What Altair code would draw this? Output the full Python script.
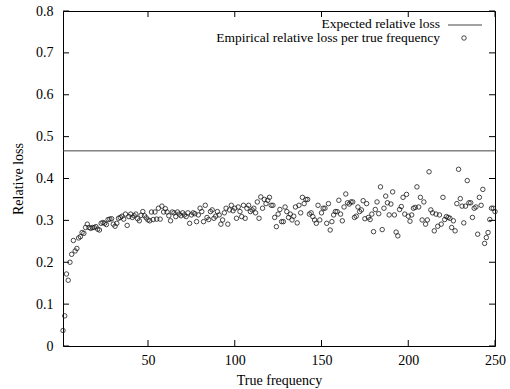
import altair as alt
import pandas as pd

# Empirical relative loss for each true frequency 1..250
loss_low = [
    0.037, 0.072, 0.172, 0.157, 0.200, 0.219, 0.252, 0.227, 0.233, 0.258,
    0.261, 0.271, 0.269, 0.283, 0.291, 0.283, 0.281, 0.283, 0.283, 0.285,
    0.279, 0.277, 0.293, 0.295, 0.293, 0.290, 0.302, 0.303, 0.304, 0.291,
    0.286, 0.293, 0.305, 0.307, 0.310, 0.303, 0.315, 0.288, 0.309, 0.315,
    0.307, 0.311, 0.315, 0.304, 0.299, 0.312, 0.321, 0.311, 0.306, 0.301,
    0.299, 0.320, 0.302, 0.320, 0.303, 0.329, 0.303, 0.334, 0.320, 0.328,
    0.320, 0.311, 0.299, 0.320, 0.318, 0.309, 0.320, 0.315, 0.311,
]
loss_mid = [
    0.318, 0.313, 0.309, 0.318, 0.293, 0.313, 0.318, 0.316, 0.297, 0.313,
    0.329, 0.321, 0.297, 0.336, 0.307, 0.302, 0.321, 0.325, 0.305, 0.310,
    0.321, 0.313, 0.291, 0.301, 0.318, 0.329, 0.291, 0.325, 0.336, 0.323,
    0.329, 0.305, 0.332, 0.321, 0.309, 0.336, 0.305, 0.329, 0.336, 0.321,
    0.325, 0.329, 0.318, 0.344, 0.305, 0.356, 0.329, 0.350, 0.340, 0.348,
    0.355, 0.336, 0.336, 0.307, 0.285, 0.315, 0.326, 0.297, 0.297, 0.332,
    0.321, 0.307, 0.315, 0.301, 0.310, 0.332, 0.294, 0.336, 0.318, 0.355,
    0.340, 0.350, 0.350, 0.315, 0.318, 0.309, 0.301, 0.293, 0.336, 0.301,
    0.318, 0.329, 0.329, 0.293, 0.340, 0.277, 0.297, 0.313, 0.321, 0.321,
    0.348, 0.315, 0.299, 0.332, 0.363, 0.342,
]
loss_high = [
    0.339, 0.344, 0.344, 0.307, 0.310, 0.332, 0.321, 0.325, 0.347, 0.304,
    0.340, 0.307, 0.302, 0.315, 0.273, 0.326, 0.344, 0.316, 0.380, 0.278,
    0.329, 0.358, 0.342, 0.313, 0.339, 0.368, 0.313, 0.272, 0.263, 0.326,
    0.333, 0.355, 0.315, 0.362, 0.310, 0.298, 0.313, 0.329, 0.331, 0.380,
    0.332, 0.355, 0.301, 0.344, 0.291, 0.301, 0.416, 0.325, 0.318, 0.275,
    0.315, 0.286, 0.313, 0.291, 0.355, 0.302, 0.309, 0.307, 0.305, 0.283,
    0.299, 0.275, 0.340, 0.422, 0.352, 0.334, 0.294, 0.334, 0.395, 0.342,
    0.342, 0.307, 0.329, 0.332, 0.267, 0.355, 0.336, 0.374, 0.245, 0.259,
    0.271, 0.302, 0.329, 0.329, 0.321,
]
empirical_loss = loss_low + loss_mid + loss_high
true_frequency = list(range(1, len(empirical_loss) + 1))

expected_loss = [0.466]

x_ticks = [50, 100, 150, 200, 250]
y_ticks = [0, 0.1, 0.2, 0.3, 0.4, 0.5, 0.6, 0.7, 0.8]

legend_labels = ["Expected relative loss", "Empirical relative loss per true frequency"]

W, H = 432, 335
FONT = "'Liberation Serif', 'Times New Roman', Times, serif"
TICK = 6

points_df = pd.DataFrame({"freq": true_frequency, "loss": empirical_loss})
expected_df = pd.DataFrame({"loss": expected_loss})
xt_df = pd.DataFrame({"freq": x_ticks})
yt_df = pd.DataFrame({"loss": y_ticks})

x_scale = alt.Scale(domain=[1, 250], nice=False, zero=False)
y_scale = alt.Scale(domain=[0, 0.8], nice=False)

x_axis = alt.Axis(
    values=x_ticks, ticks=False, domain=False, grid=False, labelFlush=False,
    labelFont=FONT, labelFontSize=14, labelColor="black", labelPadding=7,
    title="True frequency", titleFont=FONT, titleFontSize=14,
    titleFontWeight="normal", titleColor="black",
    titleY=34, titleBaseline="middle",
)
y_axis = alt.Axis(
    values=y_ticks, ticks=False, domain=False, grid=False, labelFlush=False,
    labelFont=FONT, labelFontSize=14, labelColor="black", labelPadding=10,
    labelExpr="datum.value == 0 ? '0' : format(datum.value, '.1f')",
    title="Relative loss", titleFont=FONT, titleFontSize=14,
    titleFontWeight="normal", titleColor="black",
    titleX=-45, titleY=H / 2, titleAngle=270,
    titleAlign="center", titleBaseline="middle",
)

points = alt.Chart(points_df).mark_point(
    shape="circle", size=20, filled=False, color="#1a1a1a", strokeWidth=0.8, opacity=1
).encode(
    x=alt.X("freq:Q", scale=x_scale, axis=x_axis),
    y=alt.Y("loss:Q", scale=y_scale, axis=y_axis),
)

expected = alt.Chart(expected_df).mark_rule(color="#444444", strokeWidth=1).encode(
    y=alt.Y("loss:Q", scale=y_scale),
)

# inward ticks on all four sides of the frame
bottom_ticks = alt.Chart(xt_df).mark_rule(color="black", strokeWidth=1).encode(
    x=alt.X("freq:Q", scale=x_scale), y=alt.value(H), y2=alt.value(H - TICK)
)
top_ticks = alt.Chart(xt_df).mark_rule(color="black", strokeWidth=1).encode(
    x=alt.X("freq:Q", scale=x_scale), y=alt.value(0), y2=alt.value(TICK)
)
left_ticks = alt.Chart(yt_df).mark_rule(color="black", strokeWidth=1).encode(
    y=alt.Y("loss:Q", scale=y_scale), x=alt.value(0), x2=alt.value(TICK)
)
right_ticks = alt.Chart(yt_df).mark_rule(color="black", strokeWidth=1).encode(
    y=alt.Y("loss:Q", scale=y_scale), x=alt.value(W - TICK), x2=alt.value(W)
)

# key in the top-right corner: text right-aligned, sample to its right
key_text_1 = alt.Chart(pd.DataFrame({"t": [legend_labels[0]]})).mark_text(
    font=FONT, fontSize=13.5, align="right", baseline="middle", color="black"
).encode(text="t:N", x=alt.value(377), y=alt.value(13))
key_text_2 = alt.Chart(pd.DataFrame({"t": [legend_labels[1]]})).mark_text(
    font=FONT, fontSize=13.5, align="right", baseline="middle", color="black"
).encode(text="t:N", x=alt.value(377), y=alt.value(27))
key_line = alt.Chart(pd.DataFrame({"t": [legend_labels[0]]})).mark_rule(
    color="#444444", strokeWidth=1
).encode(x=alt.value(385), x2=alt.value(419), y=alt.value(14))
key_point = alt.Chart(pd.DataFrame({"t": [legend_labels[1]]})).mark_point(
    shape="circle", size=20, filled=False, color="#1a1a1a", strokeWidth=0.8, opacity=1
).encode(x=alt.value(401), y=alt.value(27))

chart = alt.layer(
    expected, points, bottom_ticks, top_ticks, left_ticks, right_ticks,
    key_text_1, key_text_2, key_line, key_point,
).properties(
    width=W, height=H,
    autosize=alt.AutoSizeParams(type="none"),
    padding={"left": 63, "top": 11, "right": 15, "bottom": 43},
    background="white",
).configure_view(stroke="black", strokeWidth=1)

chart.save("out.html", embed_options={"renderer": "svg", "actions": False})
